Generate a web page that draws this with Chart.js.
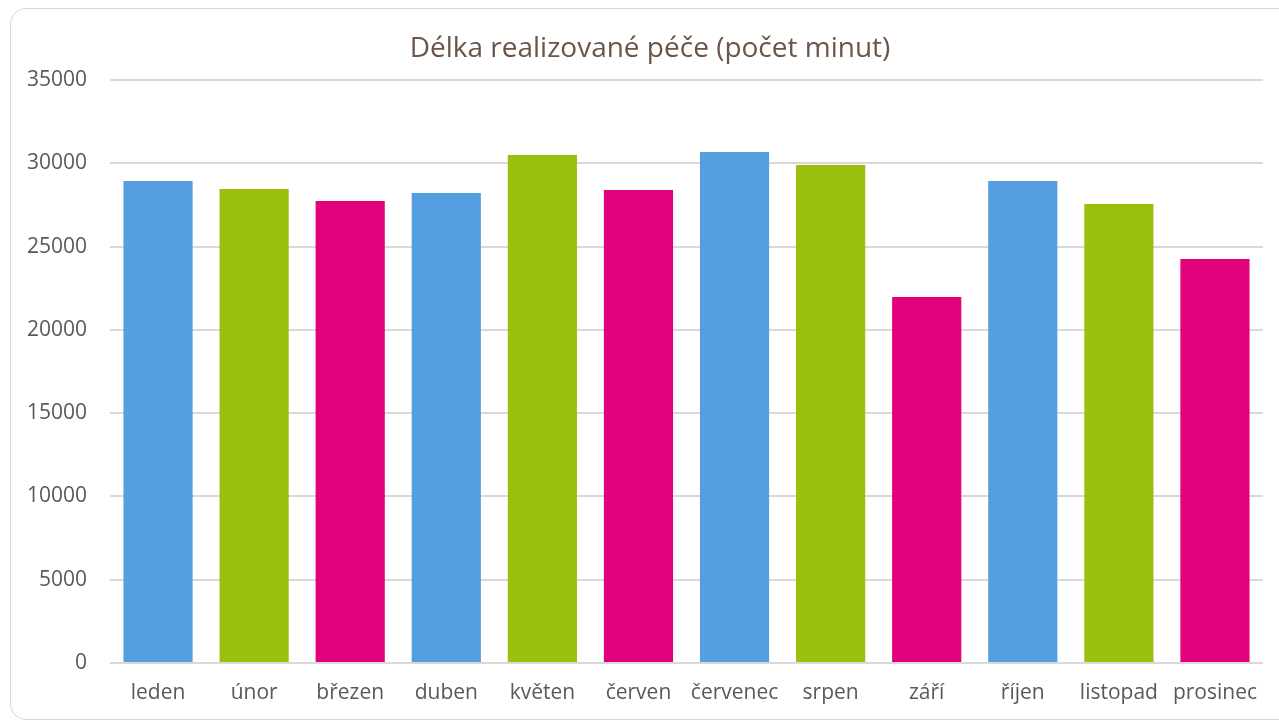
<!DOCTYPE html>
<html>
<head>
<meta charset="utf-8">
<script src="https://cdn.jsdelivr.net/npm/chart.js@4"></script>
<style>
  html, body { margin: 0; padding: 0; background: #fff; overflow: hidden; }
  .frame { position: absolute; left: 10px; top: 8px; width: 1300px; height: 712px;
           border: 1.5px solid #d9d9d9; border-radius: 16px; box-sizing: border-box; }
  .wrap { position: absolute; left: 0; top: 0; width: 1279px; height: 725px; }
</style>
</head>
<body>
<div class="frame"></div>
<div class="wrap"><canvas id="c" width="1279" height="725"></canvas></div>
<script>
// months (Czech) and minutes of care delivered per month
var months = ["leden", "únor", "březen", "duben", "květen", "červen",
              "červenec", "srpen", "září", "říjen", "listopad", "prosinec"];
var minutes = [28940, 28460, 27730, 28220, 30500, 28400,
               30680, 29900, 21970, 28940, 27550, 24250];
var yTicks = [0, 5000, 10000, 15000, 20000, 25000, 30000, 35000];
var TITLE = "Délka realizované péče (počet minut)";

var COL = ["#559FE1", "#9ABF0D", "#E3007B"];
var FONT = "'Open Sans', 'DejaVu Sans', sans-serif";
var TICK = "#595959";
var GRID = "#d9d9d9";

/* title centred on the whole frame (not on the canvas), like the original */
var frameTitle = {
  id: "frameTitle",
  afterDraw: function (chart) {
    var ctx = chart.ctx;
    ctx.save();
    ctx.font = "28px " + FONT;
    ctx.fillStyle = "#6B5549";
    ctx.textAlign = "center";
    ctx.textBaseline = "middle";
    ctx.fillText(TITLE, 650, 49);
    ctx.restore();
  }
};

new Chart(document.getElementById("c"), {
  type: "bar",
  data: {
    labels: months,
    datasets: [{
      label: TITLE,
      data: minutes,
      backgroundColor: months.map(function (m, i) { return COL[i % 3]; }),
      borderWidth: 0,
      categoryPercentage: 0.72,
      barPercentage: 1
    }]
  },
  plugins: [frameTitle],
  options: {
    responsive: false, animation: false,
    layout: { padding: { left: 0, right: 16, top: 80, bottom: 0 } },
    plugins: {
      legend: { display: false },
      tooltip: { enabled: false },
      title: { display: false }
    },
    scales: {
      x: {
        grid: { display: false, drawTicks: false },
        border: { display: false },
        ticks: { color: TICK, font: { family: FONT, size: 21 }, padding: 17, maxRotation: 0, autoSkip: false },
        afterFit: function (s) { s.height = 62; }
      },
      y: {
        min: 0, max: 35000,
        afterBuildTicks: function (s) { s.ticks = yTicks.map(function (v) { return { value: v }; }); },
        grid: { color: GRID, lineWidth: 2, drawTicks: false },
        border: { display: false },
        ticks: { color: TICK, font: { family: FONT, size: 21 }, padding: 23,
                 callback: function (v) { return String(v); } },
        afterFit: function (s) { s.width = 110; }
      }
    }
  }
});
</script>
</body>
</html>
